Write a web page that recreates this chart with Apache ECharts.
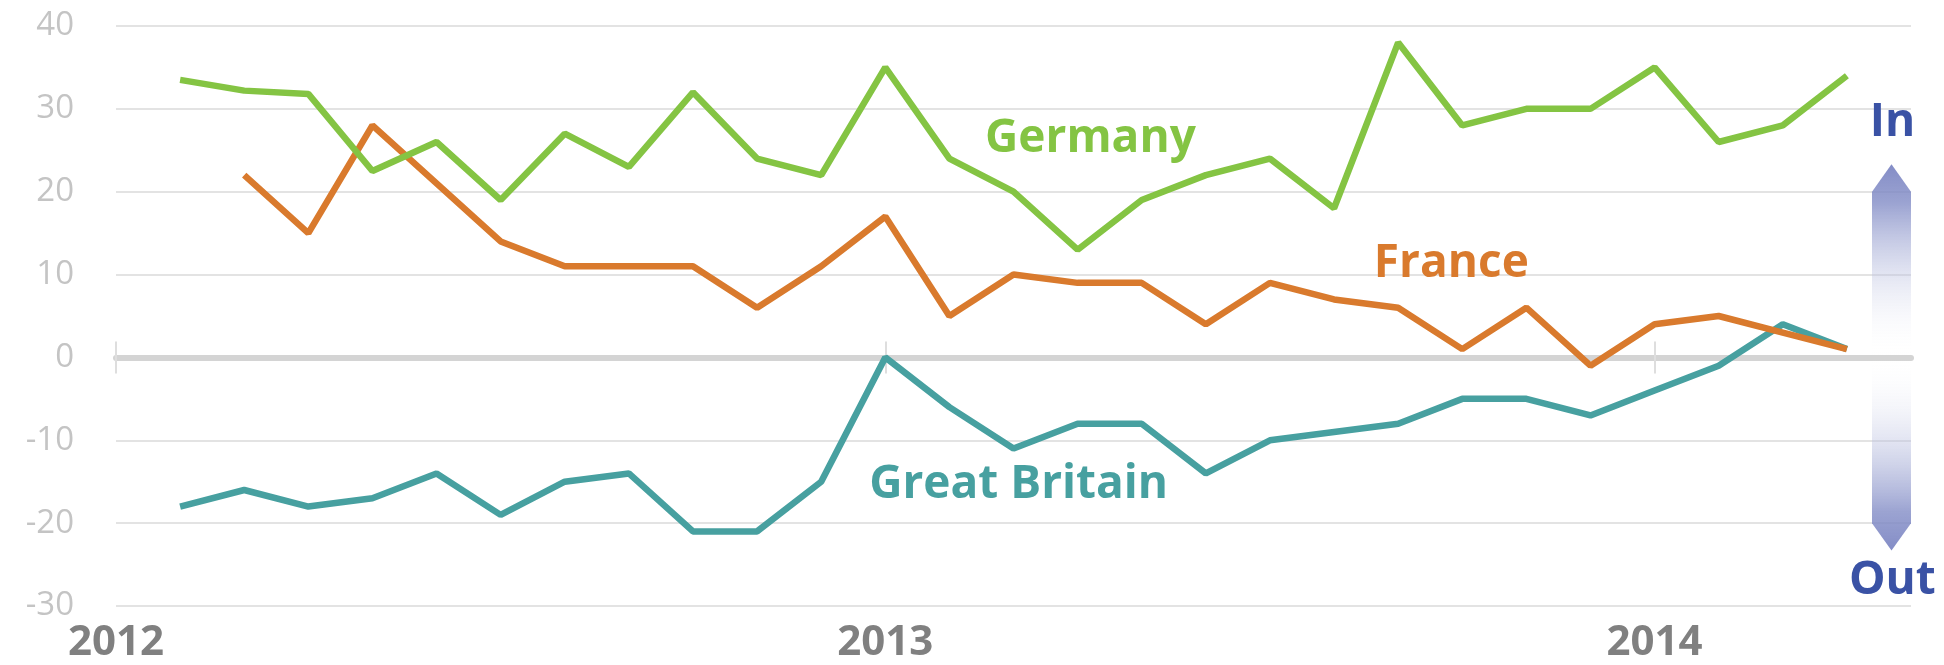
<!DOCTYPE html>
<html>
<head>
<meta charset="utf-8">
<script src="https://cdn.jsdelivr.net/npm/echarts@6/dist/echarts.min.js"></script>
<style>
html, body { margin: 0; padding: 0; background: #fff; }
#chart { width: 1944px; height: 665px; }
</style>
</head>
<body>
<div id="chart"></div>
<script>
// monthly readings, Jan 2012 - May 2014
var months = [
  '2012-01', '2012-02', '2012-03', '2012-04', '2012-05', '2012-06', '2012-07', '2012-08', '2012-09', '2012-10', '2012-11', '2012-12',
  '2013-01', '2013-02', '2013-03', '2013-04', '2013-05', '2013-06', '2013-07', '2013-08', '2013-09', '2013-10', '2013-11', '2013-12',
  '2014-01', '2014-02', '2014-03', '2014-04', '2014-05'
];
var germany = [null, 33.5, 32.2, 31.8, 22.5, 26, 19, 27, 23, 32, 24, 22,
  35, 24, 20, 13, 19, 22, 24, 18, 38, 28, 30, 30,
  35, 26, 28, 34];
var france = [null, null, 22, 15, 28, 21, 14, 11, 11, 11, 6, 11,
  17, 5, 10, 9, 9, 4, 9, 7, 6, 1, 6, -1,
  4, 5, 3, 1];
var britain = [null, -18, -16, -18, -17, -14, -19, -15, -14, -21, -21, -15,
  0, -6, -11, -8, -8, -14, -10, -9, -8, -5, -5, -7,
  -4, -1, 4, 1];
var yTicks = [-30, -20, -10, 0, 10, 20, 30, 40];

var colors = { germany: '#84c443', france: '#d97a2d', britain: '#47a0a0', arrow: '#3a52a5' };

var chart = echarts.init(document.getElementById('chart'));

function yearTick(i) { return i % 12 === 0; }

var yMin = yTicks[0], yMax = yTicks[yTicks.length - 1];

var option = {
  animation: false,
  grid: { left: 116, right: 33, top: 26, bottom: 59 },
  xAxis: [
    {
      type: 'category', data: months, boundaryGap: false, position: 'bottom',
      axisLine: { show: false, onZero: false }, axisTick: { show: false },
      splitLine: { show: false },
      axisLabel: {
        interval: function (i) { return yearTick(i); },
        formatter: function (v) { return v.slice(0, 4); },
        fontFamily: 'Open Sans', fontSize: 42, fontWeight: 'bold', color: '#808080', margin: 16
      }
    },
    {
      // zero line with year ticks below it
      type: 'category', data: months, boundaryGap: false, position: 'bottom',
      axisLine: { show: true, onZero: true, onZeroAxisIndex: 0, lineStyle: { color: '#d4d4d4', width: 6 } },
      axisTick: { show: true, interval: yearTick, length: 16, lineStyle: { color: '#dedede', width: 2 } },
      axisLabel: { show: false }, splitLine: { show: false }
    },
    {
      // year ticks above the zero line
      type: 'category', data: months, boundaryGap: false, position: 'bottom',
      axisLine: { show: true, onZero: true, onZeroAxisIndex: 1, lineStyle: { color: 'rgba(0,0,0,0)', width: 0 } },
      axisTick: { show: true, inside: true, interval: yearTick, length: 16, lineStyle: { color: '#dedede', width: 2 } },
      axisLabel: { show: false }, splitLine: { show: false }
    }
  ],
  yAxis: [
    {
      type: 'value', min: yMin, max: yMax, interval: 10, position: 'left',
      axisLine: { show: false }, axisTick: { show: false },
      axisLabel: { fontFamily: 'Open Sans', fontSize: 33, color: '#c4c4c4', margin: 42 },
      splitLine: { lineStyle: { color: '#e3e3e3', width: 2 } }
    },
    {
      // twin scale, only used to seat the upper year ticks on zero
      type: 'value', min: yMin, max: yMax, interval: 10, position: 'left',
      axisLine: { show: false }, axisTick: { show: false },
      axisLabel: { show: false }, splitLine: { show: false }
    }
  ],
  series: [
    { name: 'Great Britain', type: 'line', data: britain, symbol: 'none', lineStyle: { color: colors.britain, width: 6.5 } },
    { name: 'France', type: 'line', data: france, symbol: 'none', lineStyle: { color: colors.france, width: 6.5 } },
    { name: 'Germany', type: 'line', data: germany, symbol: 'none', lineStyle: { color: colors.germany, width: 6.5 } }
  ]
};
chart.setOption(option);

// place annotations through the chart's own scales
function px(i, v) {
  var i0 = Math.floor(i), f = i - i0;
  var a = chart.convertToPixel({ seriesIndex: 0 }, [i0, v]);
  var b = chart.convertToPixel({ seriesIndex: 0 }, [i0 + 1, v]);
  return [a[0] + (b[0] - a[0]) * f, a[1]];
}

var notes = [
  { text: 'Germany', at: [15.2, 26.4], color: colors.germany },
  { text: 'France', at: [20.83, 11.3], color: colors.france },
  { text: 'Great Britain', at: [14.08, -15.4], color: colors.britain },
  { text: 'In', at: [27.71, 28.3], color: colors.arrow },
  { text: 'Out', at: [27.71, -27.0], color: colors.arrow }
];

var xr = px(28, 0)[0];
var xl = xr - 39;
var xc = (xl + xr) / 2;
var y0 = px(0, 0)[1];
var upBase = px(0, 20)[1], upTip = px(0, 23.3)[1];
var dnBase = px(0, -20)[1], dnTip = px(0, -23.3)[1];

var graphics = [
  {
    type: 'polygon', z: 1,
    shape: { points: [[xc, upTip], [xr, upBase], [xr, y0], [xl, y0], [xl, upBase]] },
    style: { fill: new echarts.graphic.LinearGradient(0, 0, 0, 1, [
      { offset: 0, color: 'rgba(118,128,192,0.9)' },
      { offset: 0.2, color: 'rgba(130,140,198,0.8)' },
      { offset: 1, color: 'rgba(255,255,255,0)' }
    ]) }
  },
  {
    type: 'polygon', z: 1,
    shape: { points: [[xl, y0], [xr, y0], [xr, dnBase], [xc, dnTip], [xl, dnBase]] },
    style: { fill: new echarts.graphic.LinearGradient(0, 0, 0, 1, [
      { offset: 0, color: 'rgba(255,255,255,0)' },
      { offset: 0.8, color: 'rgba(130,140,198,0.8)' },
      { offset: 1, color: 'rgba(118,128,192,0.9)' }
    ]) }
  }
];
notes.forEach(function (n) {
  var p = px(n.at[0], n.at[1]);
  graphics.push({
    type: 'text', z: 10,
    style: {
      text: n.text, x: p[0], y: p[1], fill: n.color,
      font: 'bold 46px "Open Sans"', align: 'center', verticalAlign: 'middle'
    }
  });
});
chart.setOption({ graphic: graphics });
</script>
</body>
</html>
